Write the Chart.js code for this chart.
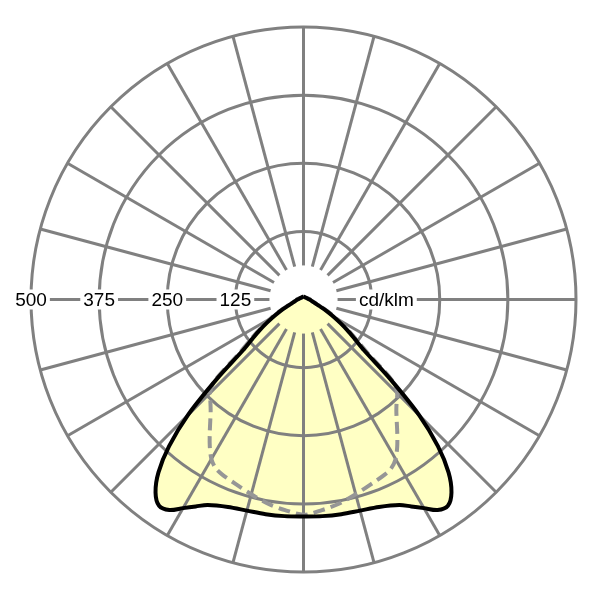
<!DOCTYPE html>
<html>
<head>
<meta charset="utf-8">
<script src="https://cdn.jsdelivr.net/npm/chart.js@4.4.1/dist/chart.umd.min.js"></script>
<style>
  html, body { margin: 0; padding: 0; background: #fff; }
  canvas { display: block; }
</style>
</head>
<body>
<canvas id="polar" width="600" height="600"></canvas>
<script>
// gamma angle from nadir (0 = straight down, 180 = straight up), degrees
const gammaAngles = [0, 5, 10, 15, 20, 25, 27.5, 30, 32.5, 35, 37.5, 40, 42.5, 45, 47.5, 50, 52.5, 55, 57.5, 60, 62.5, 65, 67.5, 70, 75, 80, 85, 90, 100, 120, 140, 160, 180];
// luminous intensity, cd/klm
const planeC0C180 = [398, 399, 400, 401, 405, 416, 428, 442, 458, 462, 446, 414, 365, 300, 215, 145, 118, 98, 80, 65, 52, 41, 32, 26, 19, 15, 13, 11, 8, 6, 5, 5, 5];
const planeC90C270 = [395, 388, 380, 370, 361, 354, 349, 338, 320, 300, 281, 265, 253, 243, 222, 155, 124, 103, 85, 69, 56, 44, 34, 28, 20, 15, 13, 12, 9, 6, 5, 5, 5];

const ringValues = [125, 250, 375, 500];
const ringLabels = ['125', '250', '375', '500'];
const unitLabel = 'cd/klm';
const spokeStep = 15;
const spokeInner = 62.5;
const maxValue = 500;

const FONT = '19px "Liberation Sans", Arial, sans-serif';
const GRID = 'rgb(128,128,128)';

// left half (gamma 180 -> 0) then right half (0 -> 180), symmetric plane
function toPoints(values) {
  const pts = [];
  for (let i = gammaAngles.length - 1; i >= 0; i--) {
    const a = gammaAngles[i] * Math.PI / 180;
    pts.push({ x: -values[i] * Math.sin(a), y: -values[i] * Math.cos(a) });
  }
  for (let i = 1; i < gammaAngles.length; i++) {
    const a = gammaAngles[i] * Math.PI / 180;
    pts.push({ x: values[i] * Math.sin(a), y: -values[i] * Math.cos(a) });
  }
  return pts;
}

const solidPts = toPoints(planeC0C180);
const dashedPts = toPoints(planeC90C270);

// draws rings, spokes and labels right after the yellow fill
const polarGrid = {
  id: 'polarGrid',
  afterDatasetDraw(chart, args) {
    if (args.index !== 0) return;
    const ctx = chart.ctx;
    const xs = chart.scales.x, ys = chart.scales.y;
    const px = (x, y) => [xs.getPixelForValue(x), ys.getPixelForValue(y)];
    const [cx, cy] = px(0, 0);
    const unit = xs.getPixelForValue(1) - xs.getPixelForValue(0);

    ctx.save();
    ctx.strokeStyle = GRID;
    ctx.lineWidth = 3;

    ringValues.forEach(v => {
      ctx.beginPath();
      ctx.arc(cx, cy, v * unit, 0, Math.PI * 2);
      ctx.stroke();
    });

    for (let deg = 0; deg < 360; deg += spokeStep) {
      if (deg === 90 || deg === 270) continue;
      const a = deg * Math.PI / 180;
      const [x1, y1] = px(spokeInner * Math.sin(a), -spokeInner * Math.cos(a));
      const [x2, y2] = px(maxValue * Math.sin(a), -maxValue * Math.cos(a));
      ctx.beginPath();
      ctx.moveTo(x1, y1);
      ctx.lineTo(x2, y2);
      ctx.stroke();
    }

    // horizontal label axis
    ctx.beginPath();
    ctx.moveTo(px(-spokeInner, 0)[0], cy);
    ctx.lineTo(px(-maxValue, 0)[0], cy);
    ctx.moveTo(px(spokeInner, 0)[0], cy);
    ctx.lineTo(px(maxValue, 0)[0], cy);
    ctx.stroke();

    ctx.font = FONT;
    ctx.textAlign = 'center';
    ctx.textBaseline = 'middle';
    const label = (text, x) => {
      const w = ctx.measureText(text).width;
      ctx.fillStyle = '#fff';
      ctx.fillRect(x - w / 2 - 3, cy - 10, w + 6, 20);
      ctx.fillStyle = '#000';
      ctx.fillText(text, x, cy + 1);
    };
    ringValues.forEach((v, i) => label(ringLabels[i], px(-v, 0)[0]));
    label(unitLabel, px(152, 0)[0]);
    ctx.restore();
  }
};

new Chart(document.getElementById('polar'), {
  type: 'line',
  data: {
    datasets: [
      {
        data: solidPts,
        borderWidth: 0,
        borderColor: 'rgba(0,0,0,0)',
        backgroundColor: 'rgb(255,255,196)',
        fill: 'shape',
        pointRadius: 0,
        tension: 0.3,
        clip: false,
        order: 3
      },
      {
        data: dashedPts,
        borderColor: 'rgb(150,150,150)',
        borderWidth: 4,
        borderDash: [12, 6],
        fill: false,
        pointRadius: 0,
        tension: 0.3,
        clip: false,
        order: 2
      },
      {
        data: solidPts,
        borderColor: '#000',
        borderWidth: 4,
        fill: false,
        pointRadius: 0,
        tension: 0.3,
        clip: false,
        order: 1
      }
    ]
  },
  options: {
    responsive: false,
    animation: false,
    devicePixelRatio: 1,
    layout: { padding: { left: 31, right: 24, top: 27, bottom: 28 } },
    scales: {
      x: { type: 'linear', min: -500, max: 500, display: false },
      y: { type: 'linear', min: -500, max: 500, display: false }
    },
    plugins: {
      legend: { display: false },
      tooltip: { enabled: false }
    }
  },
  plugins: [polarGrid]
});
</script>
</body>
</html>
